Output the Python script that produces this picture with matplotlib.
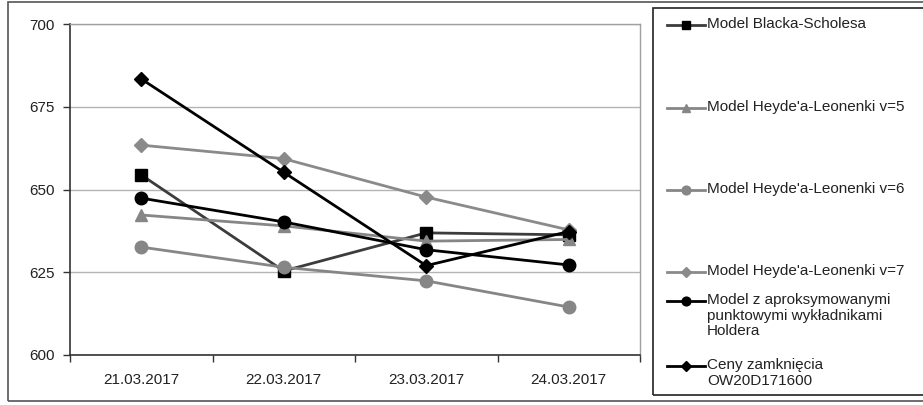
import matplotlib.pyplot as plt
from matplotlib.lines import Line2D
from matplotlib.patches import Rectangle

plt.rcParams['font.family'] = ['Liberation Sans', 'DejaVu Sans']

dates = ["21.03.2017", "22.03.2017", "23.03.2017", "24.03.2017"]

black_scholes = [654.4, 625.4, 636.9, 636.3]
hl_v5 = [642.3, 639.0, 634.4, 634.9]
hl_v6 = [632.6, 626.5, 622.4, 614.5]
hl_v7 = [663.4, 659.3, 647.7, 637.8]
holder = [647.4, 640.2, 631.8, 627.2]
closing = [683.4, 655.2, 627.0, 637.3]

labels = [
    "Model Blacka-Scholesa",
    "Model Heyde'a-Leonenki v=5",
    "Model Heyde'a-Leonenki v=6",
    "Model Heyde'a-Leonenki v=7",
    "Model z aproksymowanymi\npunktowymi wykładnikami\nHoldera",
    "Ceny zamknięcia\nOW20D171600",
]

W, H = 923, 405
fig = plt.figure(figsize=(W / 100, H / 100), dpi=100)

# outer chart frame
fig.add_artist(Rectangle((8 / W, 4 / H), 1.2, 1 - 6 / H, transform=fig.transFigure,
                         fill=False, edgecolor="#555555", linewidth=1.2))

ax = fig.add_axes([70 / W, (H - 355) / H, (640 - 70) / W, (355 - 24) / H])

# (values, line colour, marker, marker colour, marker size)
series = [
    (black_scholes, "#3c3c3c", "s", "#000000", 9),
    (hl_v5, "#868686", "^", "#868686", 8),
    (hl_v6, "#868686", "o", "#868686", 9),
    (hl_v7, "#8a8a8a", "D", "#8a8a8a", 7),
    (holder, "#000000", "o", "#000000", 9),
    (closing, "#000000", "D", "#000000", 7),
]

xs = range(len(dates))
for vals, lc, mk, mc, ms in series:
    ax.plot(xs, vals, color=lc, linewidth=2.0, marker=mk, markersize=ms,
            markerfacecolor=mc, markeredgecolor=mc, zorder=3)

ax.set_xlim(-0.5, 3.5)
ax.set_ylim(600, 700)
ax.set_yticks([600, 625, 650, 675, 700])
ax.set_xticks(list(xs))
ax.set_xticklabels(dates, fontsize=11, color="#222222")
ax.set_xticks([-0.5, 0.5, 1.5, 2.5, 3.5], minor=True)
ax.tick_params(axis="x", which="major", length=0, pad=13)
ax.tick_params(axis="x", which="minor", length=5, width=1, color="#333333")
ax.tick_params(axis="y", length=5, width=1, color="#333333", labelsize=11,
               labelcolor="#222222", pad=6)
ax.grid(axis="y", color="#b4b4b4", linewidth=1)
ax.set_axisbelow(True)

for side in ("top", "right"):
    ax.spines[side].set_color("#a0a0a0")
    ax.spines[side].set_linewidth(1)
for side in ("left", "bottom"):
    ax.spines[side].set_color("#333333")
    ax.spines[side].set_linewidth(1.2)

# legend box on the right
fig.add_artist(Rectangle((653 / W, (H - 395) / H), 1, 387 / H, transform=fig.transFigure,
                         fill=False, edgecolor="#222222", linewidth=1.2))

legend_y = [25, 108, 190, 272, 301, 366]
for (vals, lc, mk, mc, ms), label, ly in zip(series, labels, legend_y):
    yf = (H - ly) / H
    fig.add_artist(Line2D([667 / W, 705 / W], [yf, yf], transform=fig.transFigure,
                          color=lc, linewidth=2.0))
    fig.add_artist(Line2D([686 / W], [yf], transform=fig.transFigure, marker=mk,
                          markersize=ms * 0.7, color=mc, linestyle="none"))
    fig.text(707 / W, yf + 8 / H, label, fontsize=11, va="top", ha="left",
             linespacing=1.15, color="#222222")

fig.savefig("out.png", dpi=100)
